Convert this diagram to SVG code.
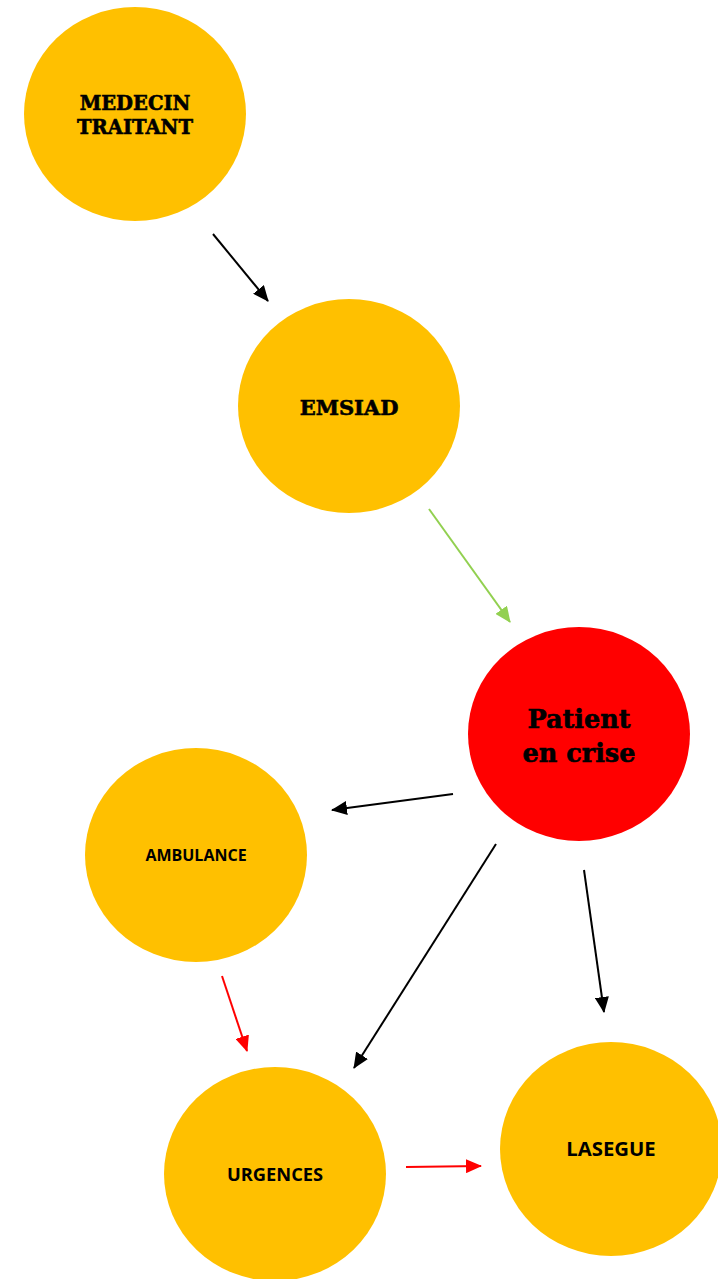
<svg xmlns="http://www.w3.org/2000/svg" width="718" height="1279" viewBox="0 0 718 1279">
<style>
.n{fill:#FFC000}
.r{fill:#FF0000}
.s{font-family:"DejaVu Serif","Liberation Serif",serif;font-weight:bold;fill:#000;text-anchor:middle;stroke:#000;stroke-width:0.6}
.c{font-family:"Open Sans","Liberation Sans",sans-serif;font-weight:bold;fill:#000;text-anchor:middle}
.k{stroke:#000;stroke-width:2;fill:none}
.g{stroke:#92D050;stroke-width:2;fill:none}
.e{stroke:#FF0000;stroke-width:2;fill:none}
</style>
<defs>
<marker id="mk" viewBox="0 0 16 14" refX="15" refY="7" markerWidth="16" markerHeight="14" markerUnits="userSpaceOnUse" orient="auto"><path d="M0,0 L16,7 L0,14 z" fill="#000"/></marker>
<marker id="mg" viewBox="0 0 16 14" refX="15" refY="7" markerWidth="16" markerHeight="14" markerUnits="userSpaceOnUse" orient="auto"><path d="M0,0 L16,7 L0,14 z" fill="#92D050"/></marker>
<marker id="mr" viewBox="0 0 16 14" refX="15" refY="7" markerWidth="16" markerHeight="14" markerUnits="userSpaceOnUse" orient="auto"><path d="M0,0 L16,7 L0,14 z" fill="#FF0000"/></marker>
</defs>
<rect width="718" height="1279" fill="#fff"/>
<g id="medecin"><ellipse class="n" cx="135" cy="114" rx="111" ry="107"/><text class="s" font-size="19.5" x="135" y="110">MEDECIN</text><text class="s" font-size="19.5" x="135" y="134">TRAITANT</text></g>
<g id="emsiad"><ellipse class="n" cx="349" cy="406" rx="111" ry="107"/><text class="s" font-size="21" x="349" y="415">EMSIAD</text></g>
<g id="patient"><ellipse class="r" cx="579" cy="734" rx="111" ry="107"/><text class="s" font-size="25.5" x="579" y="728">Patient</text><text class="s" font-size="25.5" x="579" y="762">en crise</text></g>
<g id="ambulance"><ellipse class="n" cx="196" cy="855" rx="111" ry="107"/><text class="c" font-size="16" x="196" y="861">AMBULANCE</text></g>
<g id="urgences"><ellipse class="n" cx="275" cy="1174" rx="111" ry="107"/><text class="c" font-size="18.3" x="275" y="1181">URGENCES</text></g>
<g id="lasegue"><ellipse class="n" cx="611" cy="1149" rx="111" ry="107"/><text class="c" font-size="20.3" x="611" y="1156">LASEGUE</text></g>
<g id="connectors">
<line class="k" x1="213" y1="234" x2="268" y2="301" marker-end="url(#mk)"/>
<line class="g" x1="429" y1="509" x2="510" y2="622" marker-end="url(#mg)"/>
<line class="k" x1="453" y1="794" x2="332" y2="810" marker-end="url(#mk)"/>
<line class="k" x1="496" y1="844" x2="354" y2="1068" marker-end="url(#mk)"/>
<line class="k" x1="584" y1="870" x2="604" y2="1012" marker-end="url(#mk)"/>
<line class="e" x1="222" y1="976" x2="247" y2="1051" marker-end="url(#mr)"/>
<line class="e" x1="406" y1="1167" x2="481" y2="1166" marker-end="url(#mr)"/>
</g>
</svg>
